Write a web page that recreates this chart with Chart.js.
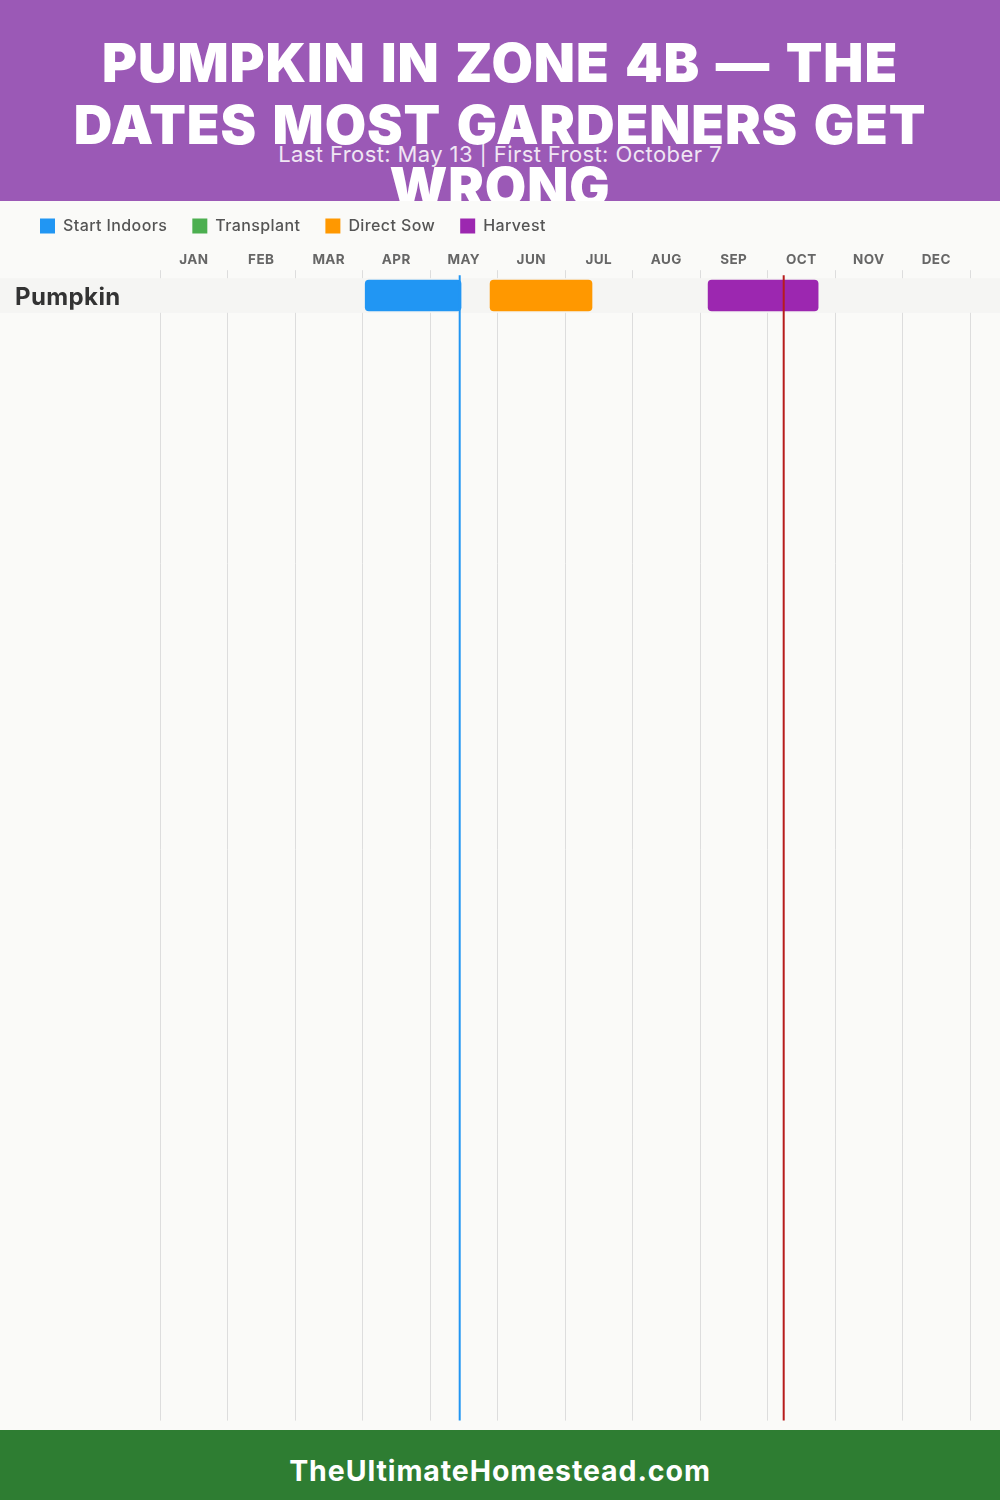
<!DOCTYPE html>
<html>
<head>
<meta charset="utf-8">
<script src="https://cdn.jsdelivr.net/npm/chart.js@4/dist/chart.umd.min.js"></script>
<style>
    html, body { margin: 0; padding: 0; background: #FAFAF8; }
    body { width: 1000px; height: 1500px; position: relative; overflow: hidden; font-family: Inter, sans-serif; }
    #header { position: absolute; left: 0; top: 0; width: 1000px; height: 201px; background: #9B59B6; overflow: hidden; z-index: 2; color: #fff; text-align: center; }
    #header h1 { position: absolute; left: 40px; width: 920px; top: 32px; margin: 0; font-size: 53.5px; line-height: 62px; font-weight: 900; letter-spacing: 0.9px; word-spacing: 4px; }
    #header p { position: absolute; left: 0; width: 1000px; top: 140px; margin: 0; font-size: 22px; line-height: 28px; letter-spacing: 0.4px; opacity: 0.85; }
    #chartBox { position: absolute; left: 0; top: 193px; width: 1000px; height: 1245px; }
    #footer { position: absolute; left: 0; top: 1430px; width: 1000px; height: 70px; background: #2E7D32; color: #fff; text-align: center; font-size: 28.5px; font-weight: 700; letter-spacing: 0.9px; line-height: 82px; overflow: hidden; }
</style>
</head>
<body>
<div id="header">
    <h1>PUMPKIN IN ZONE 4B — THE DATES MOST GARDENERS GET WRONG</h1>
    <p>Last Frost: May 13 | First Frost: October 7</p>
</div>
<div id="chartBox"><canvas id="plantingChart" width="1000" height="1245"></canvas></div>
<div id="footer">TheUltimateHomestead.com</div>
<script>
// values are in months from Jan 1 (0) to Dec 31 (12)
const months = ['JAN', 'FEB', 'MAR', 'APR', 'MAY', 'JUN', 'JUL', 'AUG', 'SEP', 'OCT', 'NOV', 'DEC'];
const crops = ['Pumpkin'];
const blankRows = new Array(32).fill('');
const startIndoors = [[3.04, 4.46]];
const transplant = [];
const directSow = [[4.89, 6.4]];
const harvest = [[8.12, 9.75]];
const lastFrost = 4.44;
const firstFrost = 9.24;

const fontName = 'Inter, sans-serif';

// Inter runs narrower than the reference lettering; the chart resets the
// canvas when it sizes it, so this has to be set after that
const wideText = {
    id: 'wideText',
    beforeUpdate(chart) { chart.ctx.letterSpacing = '0.4px'; }
};

// row band goes behind the bars, frost lines on top of them
const rowBand = {
    id: 'rowBand',
    beforeDatasetsDraw(chart) {
        const y = chart.scales.y;
        const h = y.getPixelForValue(1) - y.getPixelForValue(0);
        chart.ctx.fillStyle = '#F5F5F3';
        chart.ctx.fillRect(0, y.getPixelForValue(0) - h / 2, chart.width, h);
    }
};

const frostLines = {
    id: 'frostLines',
    afterDatasetsDraw(chart) {
        const ctx = chart.ctx;
        const area = chart.chartArea;
        [[lastFrost, '#2196F3'], [firstFrost, '#B71C1C']].forEach(function(line) {
            const x = chart.scales.x.getPixelForValue(line[0]);
            ctx.save();
            ctx.strokeStyle = line[1];
            ctx.lineWidth = 2;
            ctx.beginPath();
            ctx.moveTo(x, area.top - 3);
            ctx.lineTo(x, area.bottom);
            ctx.stroke();
            ctx.restore();
        });
    }
};

const ctx = document.getElementById('plantingChart').getContext('2d');
new Chart(ctx, {
    type: 'bar',
    data: {
        labels: crops.concat(blankRows),
        datasets: [
            { label: 'Start Indoors', data: startIndoors, backgroundColor: '#2196F3' },
            { label: 'Transplant', data: transplant, backgroundColor: '#4CAF50' },
            { label: 'Direct Sow', data: directSow, backgroundColor: '#FF9800' },
            { label: 'Harvest', data: harvest, backgroundColor: '#9C27B0' }
        ]
    },
    plugins: [wideText, rowBand, frostLines],
    options: {
        indexAxis: 'y',
        responsive: false,
        animation: false,
        layout: { autoPadding: false, padding: { left: 15, right: 30, bottom: 9, top: 0 } },
        datasets: {
            bar: { grouped: false, barThickness: 31, borderRadius: 4, borderSkipped: false }
        },
        plugins: {
            tooltip: { enabled: false },
            legend: {
                position: 'top',
                align: 'start',
                labels: {
                    boxWidth: 15,
                    boxHeight: 15,
                    padding: 25,
                    color: '#555555',
                    font: { family: fontName, size: 16, weight: '500' }
                }
            }
        },
        scales: {
            x: {
                type: 'linear',
                position: 'top',
                weight: 1,
                min: 0,
                max: 12,
                ticks: { display: false, stepSize: 1 },
                border: { display: false },
                grid: { color: '#DDDDDD', lineWidth: 1, tickLength: 8 }
            },
            monthAxis: {
                type: 'category',
                axis: 'x',
                position: 'top',
                weight: 2,
                labels: months,
                offset: true,
                afterFit(scale) { scale.height += 14; },
                border: { display: false },
                grid: { display: false },
                ticks: {
                    maxRotation: 0,
                    autoSkip: false,
                    padding: -6,
                    color: '#666666',
                    font: { family: fontName, size: 13.5, weight: '700' }
                }
            },
            y: {
                type: 'category',
                afterFit(scale) { scale.width = 145; },
                border: { display: false },
                grid: { display: false },
                ticks: {
                    z: 1,
                    autoSkip: false,
                    crossAlign: 'far',
                    labelOffset: 2,
                    color: '#333333',
                    font: { family: fontName, size: 24, weight: '700' }
                }
            }
        }
    }
});
</script>
</body>
</html>
